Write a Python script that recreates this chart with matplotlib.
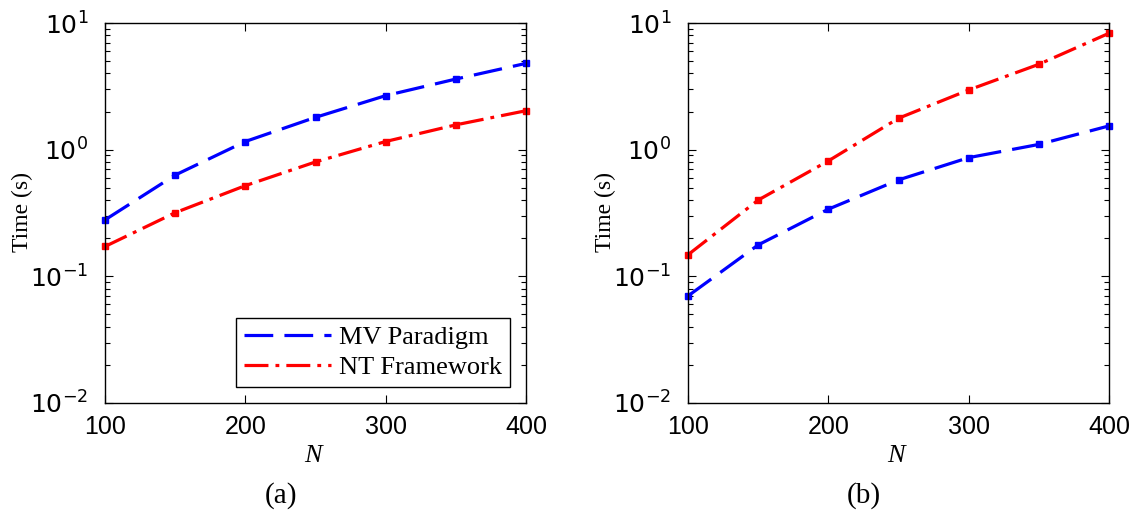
import matplotlib
matplotlib.use('Agg')
import matplotlib.pyplot as plt
import numpy as np
from matplotlib.lines import Line2D
from matplotlib.ticker import LogLocator, NullFormatter, FixedLocator

plt.rcParams['mathtext.fontset'] = 'custom'
plt.rcParams['mathtext.rm'] = 'Liberation Sans'
plt.rcParams['mathtext.it'] = 'Liberation Sans:italic'

N = [100, 150, 200, 250, 300, 350, 400]
# panel (a)
mv_a = [0.279, 0.63, 1.16, 1.80, 2.67, 3.61, 4.8]
nt_a = [0.172, 0.318, 0.52, 0.80, 1.16, 1.57, 2.03]
# panel (b)
mv_b = [0.070, 0.177, 0.339, 0.577, 0.865, 1.10, 1.54]
nt_b = [0.148, 0.40, 0.815, 1.77, 2.96, 4.72, 8.3]

labels = ['MV Paradigm', 'NT Framework']
captions = ['(a)', '(b)']
yticks = [1e-2, 1e-1, 1e0, 1e1]
ytick_labels = [r'$\mathregular{10^{-2}}$', r'$\mathregular{10^{-1}}$',
                r'$\mathregular{10^{0}}$', r'$\mathregular{10^{1}}$']
xticks = [100, 200, 300, 400]

sans = 'Liberation Sans'
serif = 'Liberation Serif'
mv_style = dict(color='blue', lw=2.3, ls=(0, (9, 3.5)))
nt_style = dict(color='red', lw=2.3, ls=(0, (7.5, 2.2, 1.2, 2.2)))

fig = plt.figure(figsize=(11.42, 5.14), dpi=100)
W, H = 1142, 514
axes_px = [(105, 526), (688, 1109)]
top, bottom = 23, 403


def px(x, y):
    return x / W, 1 - y / H


def setup(ax):
    ax.set_yscale('log')
    ax.set_xlim(100, 400)
    ax.set_ylim(1e-2, 1e1)
    ax.set_xticks(xticks)
    ax.set_xticklabels([str(t) for t in xticks], fontfamily=sans, fontsize=18)
    ax.set_yticks(yticks)
    ax.set_yticklabels(ytick_labels, fontsize=18)
    ax.yaxis.set_minor_locator(LogLocator(base=10, subs=np.arange(2, 10), numticks=20))
    ax.yaxis.set_minor_formatter(NullFormatter())
    ax.tick_params(which='both', direction='in', top=True, right=True, width=0.8)
    ax.tick_params(which='major', length=6)
    ax.tick_params(which='minor', length=3.5)
    ax.tick_params(axis='x', pad=9)
    ax.tick_params(axis='y', pad=12)
    for s in ax.spines.values():
        s.set_linewidth(1.0)


data = [(mv_a, nt_a), (mv_b, nt_b)]
for i, (x0, x1) in enumerate(axes_px):
    ax = fig.add_axes([x0 / W, 1 - bottom / H, (x1 - x0) / W, (bottom - top) / H])
    mv, nt = data[i]
    ax.plot(N, mv, marker='s', ms=5, clip_on=False, **mv_style)
    ax.plot(N, nt, marker='s', ms=5, clip_on=False, **nt_style)
    setup(ax)
    if i == 0:
        handles = [Line2D([], [], **mv_style), Line2D([], [], **nt_style)]
        leg = ax.legend(handles, labels, loc='lower right', frameon=True, fancybox=False,
                        edgecolor='black', handlelength=3.3, handletextpad=0.3,
                        borderaxespad=0.6, borderpad=0.3, labelspacing=0.25,
                        prop={'family': serif, 'size': 19})
        leg.get_frame().set_linewidth(1.0)
        leg.get_frame().set_alpha(1)
    fig.text(*px(x0 - 83, 212), 'Time (s)', rotation=90, ha='center', va='center',
             fontsize=17, fontfamily=serif)
    fig.text(*px(x0 + 208, 456), 'N', ha='center', va='center', fontsize=19,
             fontfamily=serif, fontstyle='italic')
    fig.text(*px(x0 + 176, 496), captions[i], ha='center', va='center',
             fontsize=21, fontfamily=serif)

fig.savefig('out.png', dpi=100)
